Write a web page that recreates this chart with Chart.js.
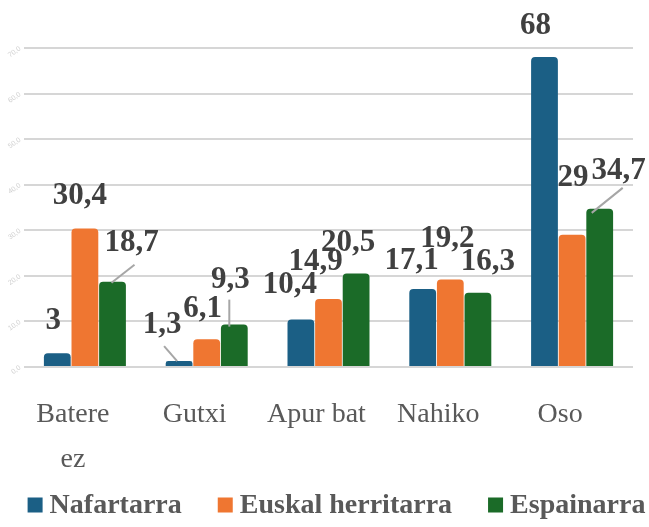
<!DOCTYPE html>
<html>
<head>
<meta charset="utf-8">
<script src="https://cdn.jsdelivr.net/npm/chart.js@4"></script>
<style>
  html, body { margin: 0; padding: 0; background: #ffffff; }
</style>
</head>
<body>
<canvas id="chart" width="649" height="527"></canvas>
<script>
// Chart data
const categories = [['Batere', 'ez'], 'Gutxi', 'Apur bat', 'Nahiko', 'Oso'];
const seriesNames = ['Nafartarra', 'Euskal herritarra', 'Espainarra'];
const nafartarra = [3, 1.3, 10.4, 17.1, 68];
const euskalHerritarra = [30.4, 6.1, 14.9, 19.2, 29];
const espainarra = [18.7, 9.3, 20.5, 16.3, 34.7];
const yTicks = [0, 10, 20, 30, 40, 50, 60, 70];

const colors = ['#1b5f85', '#ef7631', '#1b6b28'];

// Value labels drawn above the bars, nudged like the original
const barLabels = {
    id: 'barLabels',
    afterDatasetsDraw(chart, args, opts) {
        const ctx = chart.ctx;
        ctx.save();

        // leader lines first, text on top
        ctx.strokeStyle = '#a6a6a6';
        ctx.lineWidth = 2;
        opts.leaders.forEach(l => {
            const bar = chart.getDatasetMeta(l.ds).data[l.idx];
            ctx.beginPath();
            ctx.moveTo(bar.x + l.from[0], bar.y + l.from[1]);
            ctx.lineTo(bar.x + l.to[0], bar.y + l.to[1]);
            ctx.stroke();
        });

        ctx.font = 'bold 31px "Liberation Serif"';
        ctx.fillStyle = '#404040';
        ctx.textAlign = 'center';
        ctx.textBaseline = 'middle';
        chart.data.datasets.forEach((ds, i) => {
            chart.getDatasetMeta(i).data.forEach((bar, j) => {
                const [dx, dy] = opts.offsets[i][j];
                const text = String(ds.data[j]).replace('.', ',');
                ctx.fillText(text, bar.x + dx, bar.y + dy);
            });
        });
        ctx.restore();
    }
};

// Legend drawn by hand so the box/text gaps match the original
const bottomLegend = {
    id: 'bottomLegend',
    afterDraw(chart, args, opts) {
        const ctx = chart.ctx;
        const datasets = chart.data.datasets;
        ctx.save();
        ctx.font = 'bold ' + opts.size + 'px "Liberation Serif"';
        ctx.textBaseline = 'middle';
        ctx.textAlign = 'left';

        const widths = datasets.map(ds => ctx.measureText(ds.label).width);
        const total = widths.reduce((a, w) => a + opts.box + opts.gap + w, 0) + opts.spacing * (datasets.length - 1);
        let x = (chart.width - total) / 2 + opts.shift;

        datasets.forEach((ds, i) => {
            ctx.fillStyle = ds.backgroundColor;
            ctx.fillRect(x, opts.y - opts.box / 2, opts.box, opts.box);
            x += opts.box + opts.gap;
            ctx.fillStyle = opts.color;
            ctx.fillText(ds.label, x, opts.y + 1);
            x += widths[i] + opts.spacing;
        });
        ctx.restore();
    }
};

new Chart(document.getElementById('chart'), {
    type: 'bar',
    data: {
        labels: categories,
        datasets: [nafartarra, euskalHerritarra, espainarra].map((values, i) => ({
            label: seriesNames[i],
            data: values,
            backgroundColor: colors[i],
            borderRadius: 4,
            borderSkipped: 'bottom',
            barPercentage: 0.97,
            categoryPercentage: 0.68
        }))
    },
    options: {
        responsive: false,
        animation: false,
        layout: {
            padding: { top: 48, left: 0, right: 16, bottom: 46 }
        },
        plugins: {
            tooltip: { enabled: false },
            legend: { display: false },
            bottomLegend: {
                size: 28,
                color: '#595959',
                box: 15,
                gap: 7,
                spacing: 36,
                shift: 12,
                y: 505
            },
            barLabels: {
                offsets: [
                    [[-4, -32], [-17, -36], [-11, -35], [-11, -28], [-9, -31]],
                    [[-5, -32], [-4, -30], [-13, -37], [-3, -41], [1, -57]],
                    [[19, -39], [-4, -45], [-8, -31], [10, -31], [19, -38]]
                ],
                leaders: [
                    { ds: 2, idx: 0, from: [22, -17], to: [-1, 1] },
                    { ds: 0, idx: 1, from: [-15, -15], to: [-2, 0] },
                    { ds: 2, idx: 1, from: [-5, -25], to: [-5, 2] },
                    { ds: 2, idx: 4, from: [23, -21], to: [-8, 4] }
                ]
            }
        },
        scales: {
            x: {
                afterFit: scale => {
                    scale.height = 114;
                },
                grid: { display: false, drawTicks: false },
                border: { display: false },
                ticks: {
                    color: '#595959',
                    padding: 25,
                    labelOffset: -12,
                    maxRotation: 0,
                    font: { family: '"Liberation Serif"', size: 28, lineHeight: 1.6 }
                }
            },
            y: {
                min: 0,
                max: 70,
                afterBuildTicks: scale => {
                    scale.ticks = yTicks.map(v => ({ value: v }));
                },
                afterFit: scale => {
                    scale.width = 24;
                },
                grid: { color: '#d6d6d6', lineWidth: 2, drawTicks: false },
                border: { display: false },
                ticks: {
                    color: '#d0d0d0',
                    padding: 4,
                    minRotation: 35,
                    font: { family: '"Liberation Sans"', size: 7 },
                    callback: v => v + ',0'
                }
            }
        }
    },
    plugins: [barLabels, bottomLegend]
});
</script>
</body>
</html>
